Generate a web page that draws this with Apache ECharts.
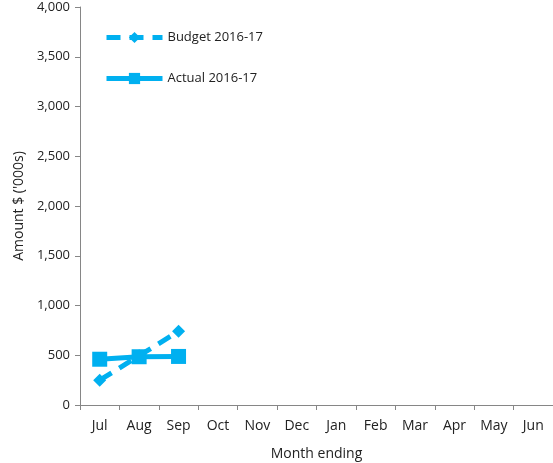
<!DOCTYPE html>
<html>
<head>
<meta charset="utf-8">
<script src="https://cdn.jsdelivr.net/npm/echarts@6/dist/echarts.min.js"></script>
<style>
html,body{margin:0;padding:0;background:#fff;}
#chart{width:553px;height:463px;}
</style>
</head>
<body>
<div id="chart"></div>
<script>
var months = ['Jul','Aug','Sep','Oct','Nov','Dec','Jan','Feb','Mar','Apr','May','Jun'];
var budget = [250, 495, 740];
var actual = [460, 485, 488];
var blue = '#00B0F0';
var fontName = 'Open Sans';

var myChart = echarts.init(document.getElementById('chart'));
var option = {
	animation:false,
	textStyle:{fontFamily:fontName},
	grid:{
		left:80,
		right:0,
		top:7,
		bottom:58,
		outerBoundsMode:'none'
	},
	legend:{
		orient:'vertical',
		left:104,
		top:31,
		padding:0,
		itemGap:28,
		itemWidth:56,
		itemHeight:14,
		lineStyle:{width:5},
		textStyle:{fontSize:13,color:'#222',fontFamily:fontName},
		data:['Budget 2016-17','Actual 2016-17']
	},
	xAxis:[{
		type:'category',
		boundaryGap:true,
		data:months,
		name:'Month ending',
		nameLocation:'middle',
		nameGap:42,
		nameTextStyle:{fontSize:14,color:'#222'},
		axisLine:{lineStyle:{color:'#868686',width:1}},
		axisTick:{show:true,alignWithLabel:false,length:5,lineStyle:{color:'#868686'}},
		axisLabel:{fontSize:14,color:'#222',margin:14}
	}],
	yAxis:[{
		type:'value',
		min:0,
		max:4000,
		interval:500,
		name:"Amount $ ('000s)",
		nameLocation:'middle',
		nameGap:54,
		nameRotate:90,
		nameTextStyle:{fontSize:14,color:'#222'},
		axisLine:{show:true,lineStyle:{color:'#868686',width:1}},
		axisTick:{show:true,length:5,lineStyle:{color:'#868686'}},
		splitLine:{show:false},
		axisLabel:{
			fontSize:13,color:'#222',margin:10,
			formatter:function(v){return v.toLocaleString('en-US');}
		}
	}],
	series:[{
		name:'Budget 2016-17',
		type:'line',
		data:budget,
		symbol:'diamond',
		symbolSize:13,
		itemStyle:{color:blue},
		lineStyle:{color:blue,width:5,type:[14,9]}
	},{
		name:'Actual 2016-17',
		type:'line',
		data:actual,
		symbol:'rect',
		symbolSize:15,
		itemStyle:{color:blue},
		lineStyle:{color:blue,width:5}
	}]
};
myChart.setOption(option,true);
</script>
</body>
</html>
